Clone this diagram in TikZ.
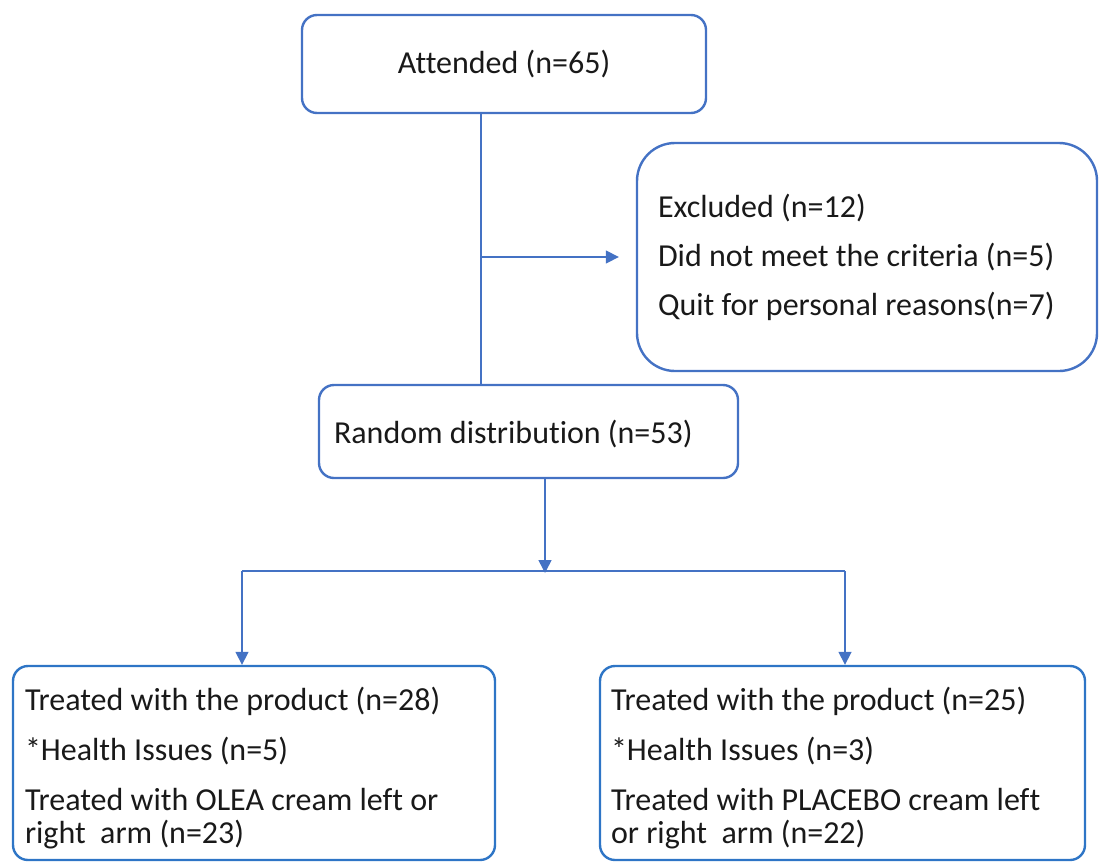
\documentclass[tikz,border=0pt]{standalone}
\usepackage{fontspec}
\setmainfont{Carlito}[Ligatures={NoCommon}]
\usetikzlibrary{arrows.meta}
\definecolor{boxblue}{HTML}{4472C4}
\definecolor{boxblue2}{HTML}{2E75C6}
\definecolor{lineblue}{HTML}{4472C4}
\newcommand{\topstrut}{\rule{0pt}{34pt}}
\newcommand{\nsp}{\spaceskip=0pt\xspaceskip=0pt\relax}
\begin{document}
\begin{tikzpicture}[x=1pt,y=-1pt,
  every node/.style={font=\fontsize{32}{33}\selectfont, text=black!90},
  box/.style={draw=boxblue, line width=2.4pt, rounded corners=15pt},
  lbox/.style={box, align=left, inner ysep=0pt},
  conn/.style={draw=lineblue, line width=1.6pt},
  arr/.style={conn, -{Triangle[width=13pt,length=13pt]}}]
\useasboundingbox (0,0) rectangle (1099,862);
\node[box, minimum width=404pt, minimum height=98pt] (att) at (504,64) {Attended (n=65)};
\node[lbox, rounded corners=38pt, inner xsep=21pt, minimum width=460pt, minimum height=228pt, text width=418pt] (exc) at (867,257)
  {\nsp Excluded (n=12)\\[16pt]Did not meet the criteria (n=5)\\[16pt]Quit for personal reasons(n=7)};
\node[lbox, inner xsep=15pt, text width=389pt, minimum width=419pt, minimum height=93pt] (rnd) at (528.5,431.5)
  {\nsp\rule{0pt}{29pt}Random distribution (n=53)};
\node[lbox, draw=boxblue2, inner xsep=12pt, text width=458pt, minimum width=482pt, minimum height=194pt] (lft) at (254,763)
  {\nsp\topstrut Treated with the product (n=28)\\[17pt]*Health Issues (n=5)\\[17pt]Treated with OLEA cream left or\\right\ \ arm (n=23)};
\node[lbox, draw=boxblue2, inner xsep=11pt, text width=463pt, minimum width=485pt, minimum height=194pt] (rgt) at (842.5,763)
  {\nsp\topstrut Treated with the product (n=25)\\[17pt]*Health Issues (n=3)\\[17pt]Treated with PLACEBO cream left\\or right\ \ arm (n=22)};
\coordinate (tx) at (481,0);
\coordinate (rx) at (545,0);
\coordinate (split) at (545,571);
\coordinate (lx) at (242,0);
\coordinate (rgx) at (845,0);
\draw[conn] (att.south -| tx) -- (rnd.north -| tx);
\draw[arr] (tx |- exc.west) -- ([xshift=-17pt]exc.west);
\draw[arr] (rnd.south -| rx) -- ([yshift=-2pt]split);
\draw[conn] (split -| lx) -- (split -| rgx);
\draw[arr] (split -| lx) -- (lft.north -| lx);
\draw[arr] (split -| rgx) -- (rgt.north -| rgx);
\end{tikzpicture}
\end{document}
